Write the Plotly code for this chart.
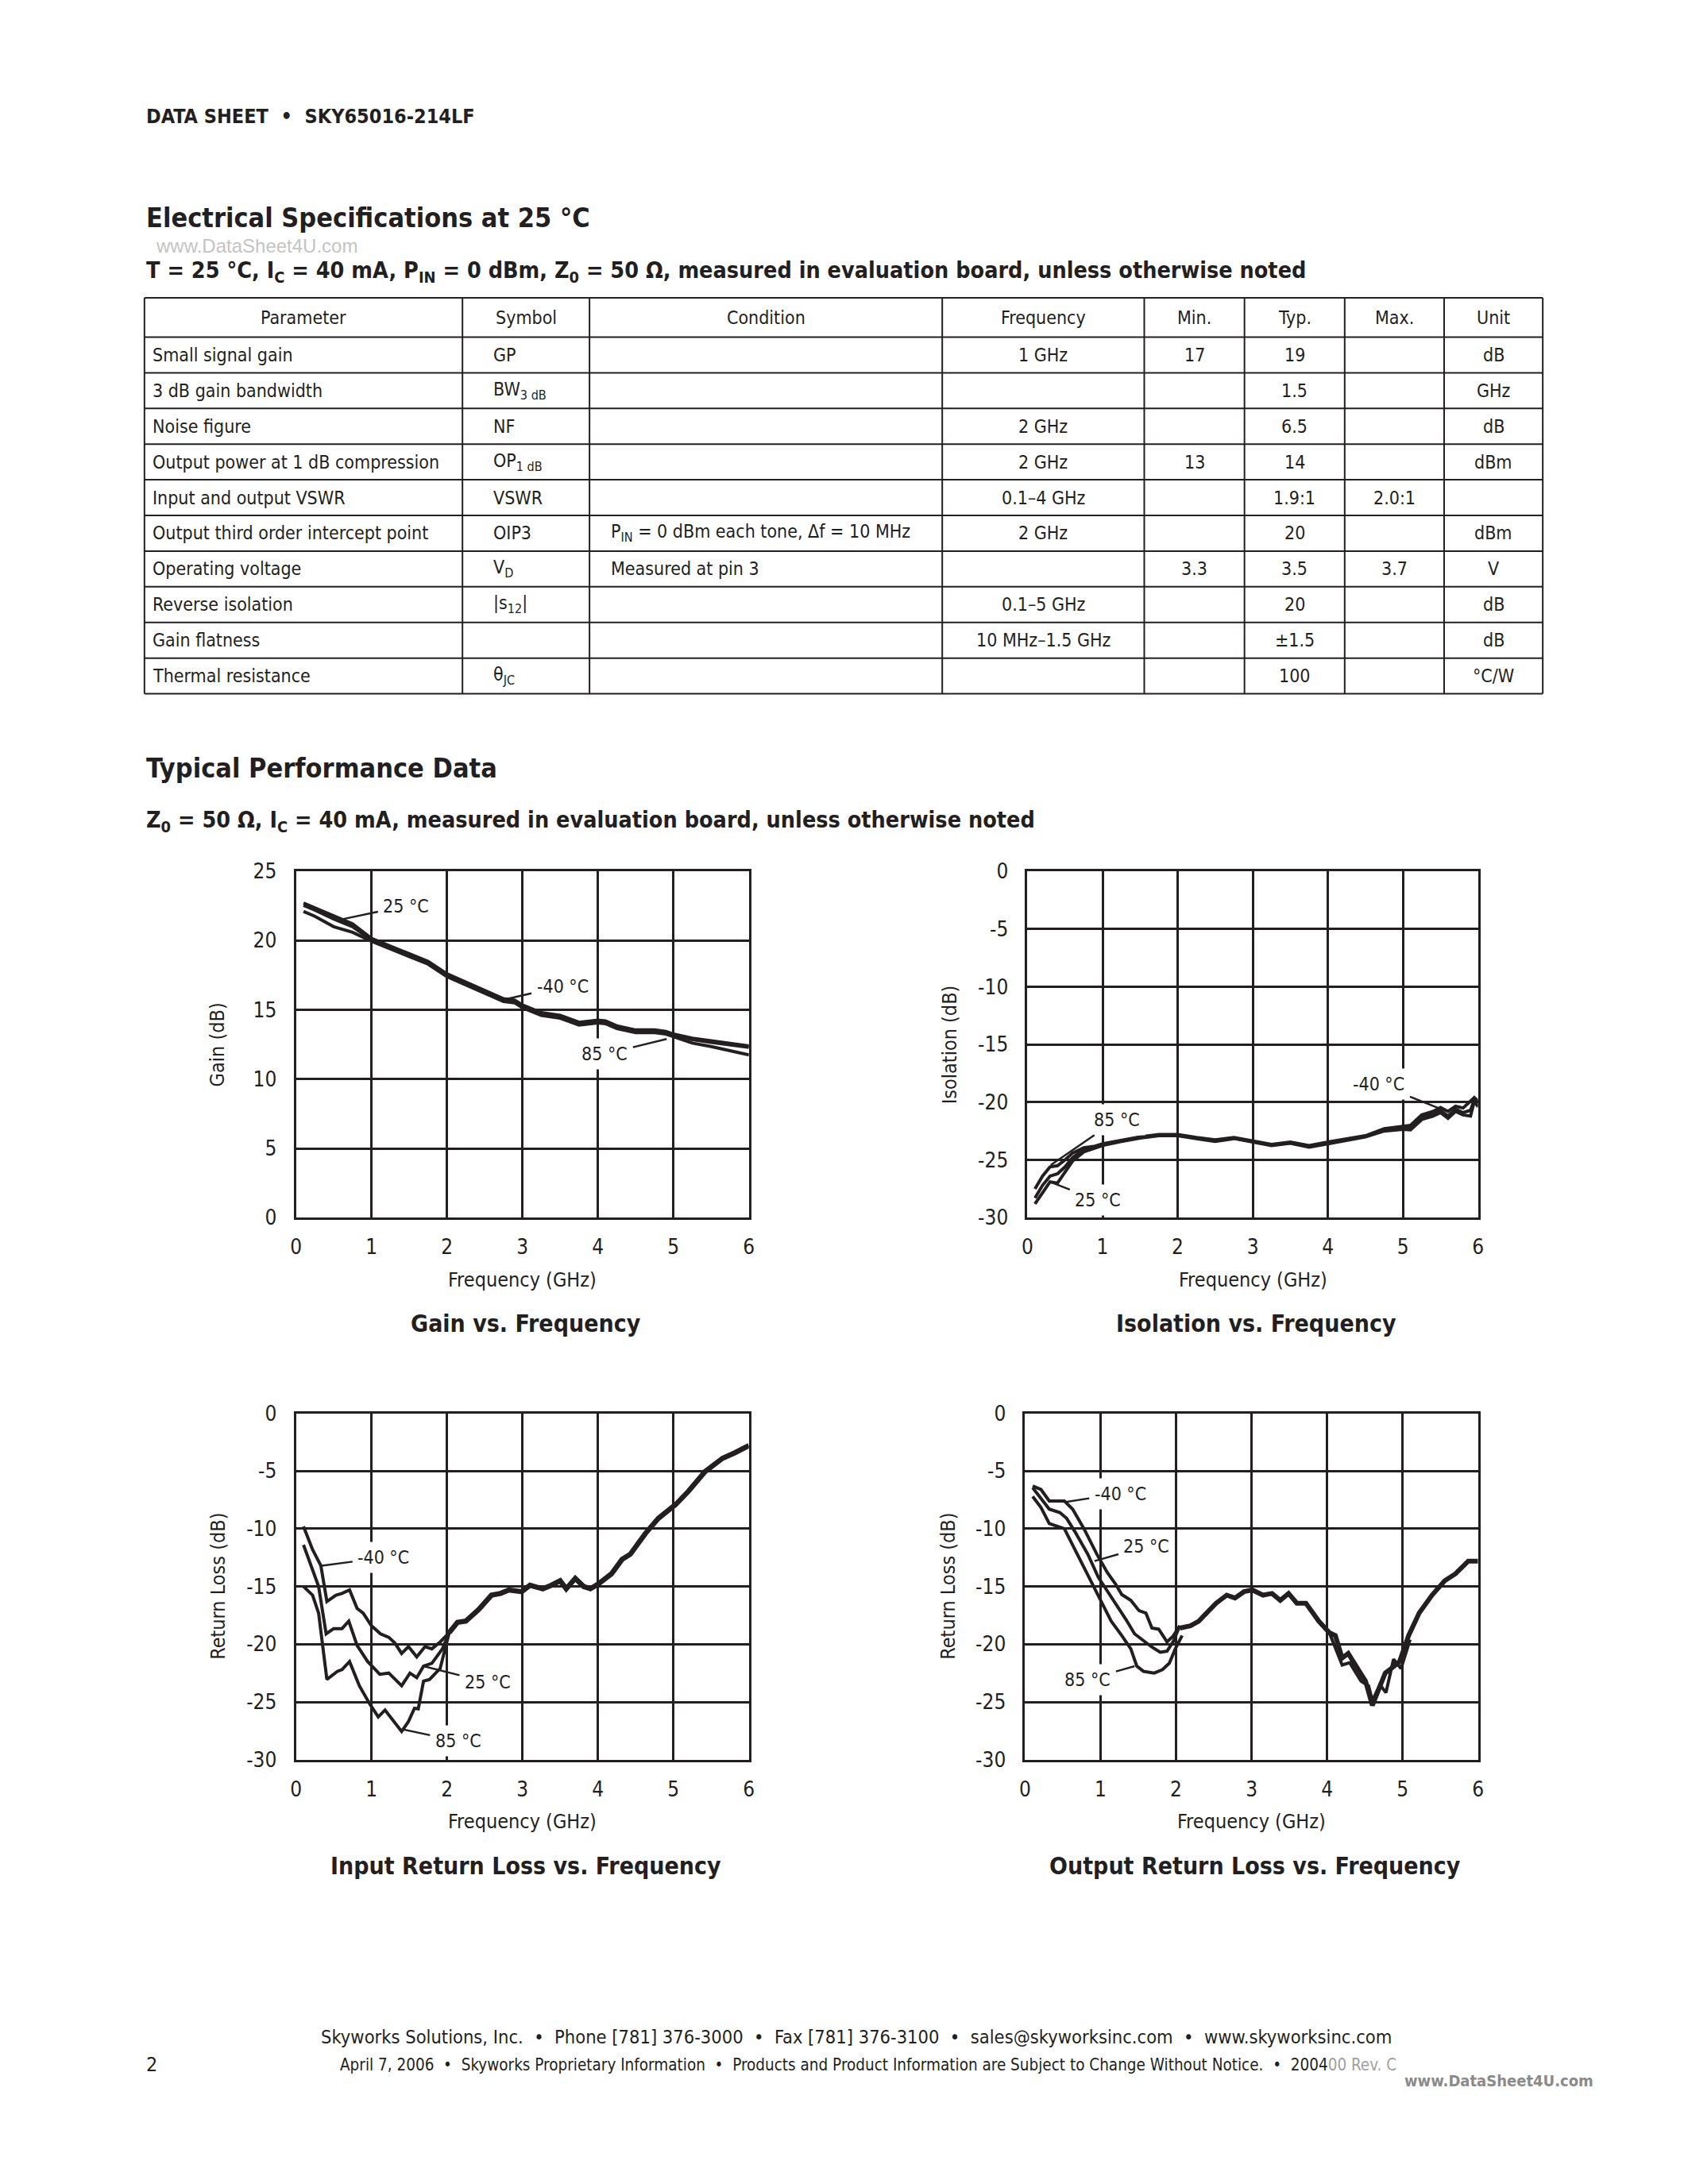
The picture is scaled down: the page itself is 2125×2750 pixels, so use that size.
import plotly.graph_objects as go

W, H = 2125, 2750
INK = "#231f20"
FONT = "Liberation Sans Narrow, DejaVu Sans Condensed, Arial Narrow, sans-serif"

# ---------------- table data ----------------
tbl_headers = ["Parameter", "Symbol", "Condition", "Frequency", "Min.", "Typ.", "Max.", "Unit"]
tbl_param = ["Small signal gain", "3 dB gain bandwidth", "Noise figure", "Output power at 1 dB compression",
             "Input and output VSWR", "Output third order intercept point", "Operating voltage",
             "Reverse isolation", "Gain flatness", "Thermal resistance"]
tbl_symbol = ["GP", "BW<sub>3 dB</sub>", "NF", "OP<sub>1 dB</sub>", "VSWR", "OIP3", "V<sub>D</sub>",
              "|s<sub>12</sub>|", "", "θ<sub>JC</sub>"]
tbl_condition = ["", "", "", "", "", "P<sub>IN</sub> = 0 dBm each tone, Δf = 10 MHz", "Measured at pin 3", "", "", ""]
tbl_freq = ["1 GHz", "", "2 GHz", "2 GHz", "0.1–4 GHz", "2 GHz", "", "0.1–5 GHz", "10 MHz–1.5 GHz", ""]
tbl_min = ["17", "", "", "13", "", "", "3.3", "", "", ""]
tbl_typ = ["19", "1.5", "6.5", "14", "1.9:1", "20", "3.5", "20", "±1.5", "100"]
tbl_max = ["", "", "", "", "2.0:1", "", "3.7", "", "", ""]
tbl_unit = ["dB", "GHz", "dB", "dBm", "", "dBm", "V", "dB", "dB", "°C/W"]

# ---------------- axis ticks ----------------
freq_ticks = [0, 1, 2, 3, 4, 5, 6]
freq_ticktext = ["0", "1", "2", "3", "4", "5", "6"]
gain_ticks = [0, 5, 10, 15, 20, 25]
gain_ticktext = ["0", "5", "10", "15", "20", "25"]
db_ticks = [-30, -25, -20, -15, -10, -5, 0]
db_ticktext = ["-30", "-25", "-20", "-15", "-10", "-5", "0"]

# ---------------- gain vs frequency ----------------
gain_f = [0.1, 0.25, 0.5, 0.75, 1.0, 1.25, 1.5, 1.75, 2.0, 2.25, 2.5, 2.75, 2.9, 3.0,
          3.25, 3.5, 3.75, 4.0, 4.1, 4.25, 4.5, 4.75, 4.9, 5.0, 5.25, 5.5, 5.75, 6.0]
gain_m40 = [22.7, 22.35, 21.75, 21.2, 20.15, 19.6, 19.05, 18.5, 17.6, 17.0, 16.4, 15.8, 15.7, 15.35,
            14.8, 14.6, 14.1, 14.25, 14.2, 13.85, 13.55, 13.55, 13.45, 13.25, 12.95, 12.75, 12.55, 12.4]
gain_25 = [22.55, 22.2, 21.55, 21.0, 20.05, 19.5, 18.95, 18.4, 17.5, 16.9, 16.3, 15.7, 15.6, 15.25,
           14.7, 14.5, 14.0, 14.15, 14.1, 13.75, 13.45, 13.45, 13.4, 13.2, 12.85, 12.65, 12.45, 12.3]
gain_85 = [22.1, 21.75, 21.0, 20.6, 19.95, 19.4, 18.85, 18.3, 17.4, 16.8, 16.2, 15.6, 15.5, 15.15,
           14.6, 14.4, 13.9, 14.05, 14.0, 13.65, 13.35, 13.35, 13.25, 13.05, 12.6, 12.35, 12.05, 11.75]

# ---------------- isolation vs frequency ----------------
iso_f = [0.1, 0.2, 0.3, 0.4, 0.5, 0.6, 0.75, 0.9, 1.0, 1.25, 1.5, 1.75, 2.0, 2.25, 2.5, 2.75, 3.0,
         3.25, 3.5, 3.75, 4.0, 4.25, 4.5, 4.75, 5.0, 5.1, 5.25, 5.4, 5.5, 5.6, 5.7, 5.8, 5.9, 5.95, 6.0]
iso_85 = [-27.5, -26.4, -25.6, -25.5, -25.0, -24.4, -23.95, -23.8, -23.6, -23.3, -23.0, -22.8, -22.8,
          -23.05, -23.25, -23.05, -23.35, -23.65, -23.45, -23.75, -23.45, -23.2, -22.9, -22.3, -22.1,
          -22.0, -21.1, -20.8, -20.45, -20.8, -20.35, -20.5, -19.9, -19.6, -19.9]
iso_25 = [-28.3, -27.2, -26.4, -26.2, -25.6, -24.8, -24.1, -23.9, -23.65, -23.35, -23.05, -22.85, -22.85,
          -23.1, -23.3, -23.1, -23.4, -23.7, -23.5, -23.8, -23.5, -23.25, -22.95, -22.4, -22.2,
          -22.2, -21.3, -21.0, -20.7, -21.2, -20.6, -20.9, -20.7, -19.8, -20.1]
iso_m40 = [-28.8, -27.8, -26.9, -27.0, -26.1, -25.1, -24.3, -24.0, -23.75, -23.4, -23.1, -22.9, -22.9,
           -23.15, -23.4, -23.15, -23.45, -23.75, -23.55, -23.9, -23.6, -23.3, -23.0, -22.5, -22.35,
           -22.4, -21.5, -21.2, -20.9, -21.4, -20.8, -21.1, -21.2, -19.9, -20.4]

# ---------------- input return loss ----------------
irl_m40_f = [0.1, 0.22, 0.33, 0.41, 0.53, 0.61, 0.71, 0.81, 0.89, 1.0, 1.12, 1.23, 1.31, 1.40, 1.49,
             1.60, 1.71, 1.80, 1.91, 2.03]
irl_m40_v = [-9.8, -11.8, -13.2, -16.3, -15.75, -15.6, -15.3, -16.9, -17.3, -18.4, -19.1, -19.4, -19.9,
             -20.8, -20.2, -21.1, -20.2, -20.4, -19.8, -19.0]
irl_25_f = [0.1, 0.2, 0.3, 0.40, 0.50, 0.61, 0.70, 0.81, 0.95, 1.11, 1.23, 1.40, 1.51, 1.60, 1.69,
            1.80, 1.94, 2.03]
irl_25_v = [-11.4, -13.3, -15.0, -19.1, -18.65, -18.65, -18.0, -20.1, -21.5, -22.6, -22.5, -23.6, -22.5,
            -22.9, -21.9, -21.65, -20.4, -19.0]
irl_85_f = [0.1, 0.22, 0.30, 0.41, 0.55, 0.61, 0.71, 0.84, 0.98, 1.09, 1.18, 1.40, 1.49, 1.57, 1.62,
            1.69, 1.77, 1.91, 2.03]
irl_85_v = [-15.0, -15.75, -17.3, -23.05, -22.35, -22.2, -21.5, -23.6, -25.2, -26.3, -25.7, -27.55,
            -26.7, -25.55, -25.6, -23.2, -23.05, -22.1, -19.0]
irl_hi_f = [2.03, 2.14, 2.25, 2.42, 2.59, 2.71, 2.82, 2.99, 3.1, 3.27, 3.38, 3.5, 3.58, 3.7, 3.81, 3.9,
            4.0, 4.18, 4.32, 4.43, 4.63, 4.8, 5.03, 5.2, 5.42, 5.65, 5.82, 6.0]
irl_hi_v = [-19.0, -18.1, -18.0, -17.0, -15.75, -15.6, -15.3, -15.45, -14.9, -15.2, -14.9, -14.5, -15.2,
            -14.3, -15.0, -15.2, -14.8, -13.9, -12.65, -12.2, -10.4, -9.1, -7.9, -6.75, -5.05, -3.9,
            -3.4, -2.8]

# ---------------- output return loss ----------------
orl_m40_f = [0.1, 0.21, 0.32, 0.52, 0.63, 0.78, 0.95, 1.09, 1.2, 1.28, 1.40, 1.51, 1.6, 1.68, 1.77,
             1.88, 1.96, 2.05]
orl_m40_v = [-6.3, -6.6, -7.6, -7.6, -8.3, -10.0, -12.2, -13.8, -14.8, -15.7, -16.2, -17.1, -17.3,
             -18.6, -18.7, -19.8, -19.3, -18.4]
orl_25_f = [0.1, 0.21, 0.32, 0.46, 0.55, 0.66, 0.83, 0.97, 1.11, 1.23, 1.34, 1.45, 1.57, 1.68, 1.79,
            1.88, 1.96, 2.05]
orl_25_v = [-6.45, -7.4, -8.3, -8.6, -9.1, -10.25, -12.2, -14.2, -15.6, -16.7, -17.9, -19.1, -19.7,
            -20.25, -20.7, -20.6, -19.8, -18.4]
orl_85_f = [0.1, 0.21, 0.32, 0.46, 0.52, 0.66, 0.83, 1.0, 1.14, 1.28, 1.40, 1.48, 1.57, 1.71, 1.82,
            1.91, 1.99, 2.08]
orl_85_v = [-7.2, -8.15, -9.55, -9.85, -10.0, -11.8, -14.05, -16.2, -18.0, -19.25, -20.4, -21.9,
            -22.35, -22.5, -22.2, -21.65, -20.4, -19.25]
orl_hi_f = [2.05, 2.19, 2.3, 2.42, 2.53, 2.67, 2.78, 2.9, 3.01, 3.15, 3.27, 3.38, 3.49, 3.6, 3.72,
            3.89, 4.03, 4.11, 4.2, 4.28, 4.43, 4.51, 4.6, 4.68, 4.77, 4.85, 4.96, 5.08, 5.22, 5.39,
            5.56, 5.7, 5.87, 6.0]
orl_hi_v = [-18.6, -18.4, -18.0, -17.15, -16.45, -15.75, -16.0, -15.45, -15.3, -15.75, -15.6, -16.2,
            -15.6, -16.45, -16.45, -18.0, -19.0, -19.25, -21.2, -20.8, -22.35, -23.2, -25.3, -23.9,
            -22.5, -22.1, -21.5, -19.25, -17.3, -15.75, -14.5, -13.9, -12.8, -12.8]
orl_alt_f = [4.03, 4.2, 4.3, 4.45, 4.55, 4.6, 4.7, 4.78, 4.88, 4.98, 5.1]
orl_alt_v = [-19.0, -21.8, -21.6, -23.2, -23.6, -24.9, -23.5, -24.2, -21.3, -22.1, -19.6]

# curve labels: (text, text x, text y, tip x, tip y)
gain_labels = [("25 °C", 1.46, 22.5, 0.58, 21.5), ("-40 °C", 3.53, 16.7, 2.73, 15.7),
               ("85 °C", 4.09, 11.8, 4.91, 12.9)]
iso_labels = [("85 °C", 1.19, -21.5, 0.31, -25.45), ("25 °C", 0.94, -28.5, 0.34, -27.0),
              ("-40 °C", 4.68, -18.45, 5.47, -20.5)]
irl_labels = [("-40 °C", 1.16, -12.5, 0.34, -13.2), ("25 °C", 2.54, -23.3, 1.69, -21.9),
              ("85 °C", 2.15, -28.4, 1.40, -27.35)]
orl_labels = [("-40 °C", 1.26, -6.95, 0.52, -7.7), ("25 °C", 1.61, -11.5, 0.92, -12.8),
              ("85 °C", 0.83, -23.05, 1.45, -21.9)]

# ---------------- layout geometry (pixels) ----------------
TABLE_TOP, HEADER_H, ROW_H = 364, 50, 45.4
col_edges = [176, 579, 740, 1187, 1443, 1570, 1697, 1823, 1948]
col_align = ["left", "left", "left", "center", "center", "center", "center", "center"]
col_pad = [8, 37, 25, 0, 0, 0, 0, 0]

charts = [
    dict(x0=368, x1=942, y0=1094, y1=1535, yr=[0, 25], yt=(gain_ticks, gain_ticktext),
         ytitle="Gain (dB)", ytx=268, title="Gain vs. Frequency", ax="x", ay="y"),
    dict(x0=1295, x1=1866, y0=1094, y1=1535, yr=[-30, 0], yt=(db_ticks, db_ticktext),
         ytitle="Isolation (dB)", ytx=1196, title="Isolation vs. Frequency", ax="x2", ay="y2"),
    dict(x0=368, x1=942, y0=1784, y1=2225, yr=[-30, 0], yt=(db_ticks, db_ticktext),
         ytitle="Return Loss (dB)", ytx=269, title="Input Return Loss vs. Frequency", ax="x3", ay="y3"),
    dict(x0=1292, x1=1866, y0=1784, y1=2225, yr=[-30, 0], yt=(db_ticks, db_ticktext),
         ytitle="Return Loss (dB)", ytx=1194, title="Output Return Loss vs. Frequency", ax="x4", ay="y4"),
]


def px(x):
    return x / W


def py(y):
    return 1 - y / H


fig = go.Figure()
annotations = []
shapes = []

# ---------------- table (ruled lines + cell texts) ----------------
table_cols = [tbl_param, tbl_symbol, tbl_condition, tbl_freq, tbl_min, tbl_typ, tbl_max, tbl_unit]
n_rows = len(tbl_param)
row_edges = [TABLE_TOP, TABLE_TOP + HEADER_H] + [TABLE_TOP + HEADER_H + ROW_H * (r + 1) for r in range(n_rows)]
for yb in row_edges:
    shapes.append(dict(type="line", xref="paper", yref="paper", x0=px(col_edges[0]), x1=px(col_edges[-1]),
                       y0=py(yb), y1=py(yb), line=dict(color=INK, width=2)))
for xb in col_edges:
    shapes.append(dict(type="line", xref="paper", yref="paper", x0=px(xb), x1=px(xb),
                       y0=py(row_edges[0]), y1=py(row_edges[-1]), line=dict(color=INK, width=2)))
for j, head in enumerate(tbl_headers):
    xc = (col_edges[j] + col_edges[j + 1]) / 2
    annotations.append(dict(text=head, x=px(xc), y=py(TABLE_TOP + HEADER_H / 2), xref="paper",
                            yref="paper", xanchor="center", yanchor="middle", showarrow=False,
                            font=dict(family=FONT, size=23, color=INK)))
for j, col in enumerate(table_cols):
    for r, val in enumerate(col):
        if not val:
            continue
        yc = TABLE_TOP + HEADER_H + ROW_H * (r + 0.5)
        if col_align[j] == "left":
            x, xa = col_edges[j] + col_pad[j], "left"
        else:
            x, xa = (col_edges[j] + col_edges[j + 1]) / 2, "center"
        annotations.append(dict(text=val, x=px(x), y=py(yc), xref="paper", yref="paper",
                                xanchor=xa, yanchor="middle", showarrow=False,
                                font=dict(family=FONT, size=23, color=INK)))


def add_line(xs, ys, c, width=4):
    fig.add_trace(go.Scatter(x=xs, y=ys, mode="lines", xaxis=c["ax"], yaxis=c["ay"],
                             line=dict(color=INK, width=width), showlegend=False,
                             hoverinfo="skip"))


c1, c2, c3, c4 = charts
for ys in (gain_m40, gain_25, gain_85):
    add_line(gain_f, ys, c1)
for ys in (iso_85, iso_25, iso_m40):
    add_line(iso_f, ys, c2)
add_line(irl_m40_f, irl_m40_v, c3)
add_line(irl_25_f, irl_25_v, c3)
add_line(irl_85_f, irl_85_v, c3)
add_line(irl_hi_f, irl_hi_v, c3, width=6.5)
add_line(orl_m40_f, orl_m40_v, c4)
add_line(orl_25_f, orl_25_v, c4)
add_line(orl_85_f, orl_85_v, c4)
add_line(orl_hi_f, orl_hi_v, c4, width=6)
add_line(orl_alt_f, orl_alt_v, c4)

layout_axes = {}
for i, c in enumerate(charts, start=1):
    sfx = "" if i == 1 else str(i)
    common = dict(showline=True, mirror=True, linecolor=INK, linewidth=3,
                  showgrid=True, gridcolor=INK, gridwidth=3, zeroline=False,
                  ticks="", tickfont=dict(family=FONT, size=26, color=INK), fixedrange=True)
    layout_axes["xaxis" + sfx] = dict(domain=[px(c["x0"]), px(c["x1"])], range=[0, 6],
                                      tickmode="array", tickvals=freq_ticks, ticktext=freq_ticktext,
                                      ticklabelstandoff=12, anchor="y" + sfx, **common)
    layout_axes["yaxis" + sfx] = dict(domain=[py(c["y1"]), py(c["y0"])], range=c["yr"],
                                      tickmode="array", tickvals=c["yt"][0], ticktext=c["yt"][1],
                                      ticklabelstandoff=16, anchor="x" + sfx, **common)
    xc = (c["x0"] + c["x1"]) / 2
    annotations.append(dict(text="Frequency (GHz)", x=px(xc), y=py(c["y1"] + 79),
                            xref="paper", yref="paper", xanchor="center", yanchor="middle",
                            showarrow=False, font=dict(family=FONT, size=25, color=INK)))
    annotations.append(dict(text=c["ytitle"], x=px(c["ytx"]), y=py((c["y0"] + c["y1"]) / 2),
                            xref="paper", yref="paper", xanchor="center", yanchor="middle",
                            showarrow=False, textangle=-90,
                            font=dict(family=FONT, size=25, color=INK)))
    annotations.append(dict(text="<b>" + c["title"] + "</b>", x=px(xc + 4), y=py(c["y1"] + 135),
                            xref="paper", yref="paper", xanchor="center", yanchor="middle",
                            showarrow=False, font=dict(family=FONT, size=30, color=INK)))

for c, labels in zip(charts, (gain_labels, iso_labels, irl_labels, orl_labels)):
    for text, tx, ty, hx, hy in labels:
        annotations.append(dict(text=text, x=hx, y=hy, ax=tx, ay=ty, xref=c["ax"], yref=c["ay"],
                                axref=c["ax"], ayref=c["ay"], showarrow=True, arrowhead=0,
                                arrowwidth=2.5, arrowcolor=INK, bgcolor="white", borderpad=6,
                                xanchor="center", yanchor="middle",
                                font=dict(family=FONT, size=23, color=INK)))

# page texts: (text, x, y, size, colour, family)
page_texts = [
    ("<b>DATA SHEET  •  SKY65016-214LF</b>", 176, 133, 25, INK, FONT),
    ("<b>Electrical Specifications at 25 °C</b>", 176, 262, 34, INK, FONT),
    ("www.DataSheet4U.com", 188, 298, 24, "#c4c4c4", "Liberation Sans, Arial, sans-serif"),
    ("<b>T = 25 °C, I<sub>C</sub> = 40 mA, P<sub>IN</sub> = 0 dBm, Z<sub>0</sub> = 50 Ω, measured in evaluation board, unless otherwise noted</b>",
     176, 331, 28.5, INK, FONT),
    ("<b>Typical Performance Data</b>", 176, 963, 34, INK, FONT),
    ("<b>Z<sub>0</sub> = 50 Ω, I<sub>C</sub> = 40 mA, measured in evaluation board, unless otherwise noted</b>",
     176, 1031, 28.5, INK, FONT),
    ("2", 176, 2613, 25, INK, FONT),
]
for text, x, y, size, color, fam in page_texts:
    annotations.append(dict(text=text, x=px(x), y=py(y), xref="paper", yref="paper",
                            xanchor="left", yanchor="middle", showarrow=False,
                            font=dict(family=fam, size=size, color=color)))

annotations.append(dict(
    text="Skyworks Solutions, Inc.  •  Phone [781] 376-3000  •  Fax [781] 376-3100  •  sales@skyworksinc.com  •  www.skyworksinc.com",
    x=px(1078), y=py(2578), xref="paper", yref="paper", xanchor="center", yanchor="middle",
    showarrow=False, font=dict(family=FONT, size=23.5, color=INK)))
annotations.append(dict(
    text="April 7, 2006  •  Skyworks Proprietary Information  •  Products and Product Information are Subject to Change Without Notice.  •  2004<span style='color:#a0a0a0'>00 Rev. C</span>",
    x=px(422), y=py(2614), xref="paper", yref="paper", xanchor="left", yanchor="middle",
    showarrow=False, font=dict(family=FONT, size=20.5, color=INK)))
annotations.append(dict(
    text="<b>www.DataSheet4U.com</b>", x=px(2014), y=py(2634), xref="paper", yref="paper",
    xanchor="right", yanchor="middle", showarrow=False,
    font=dict(family=FONT, size=20, color="#8a8a8a")))

fig.update_layout(
    width=W, height=H, margin=dict(l=0, r=0, t=0, b=0),
    paper_bgcolor="white", plot_bgcolor="white", showlegend=False,
    annotations=annotations, shapes=shapes, **layout_axes,
)

fig.write_html("out.html", config={"displayModeBar": False},
               post_script="document.body.style.margin='0px';")
